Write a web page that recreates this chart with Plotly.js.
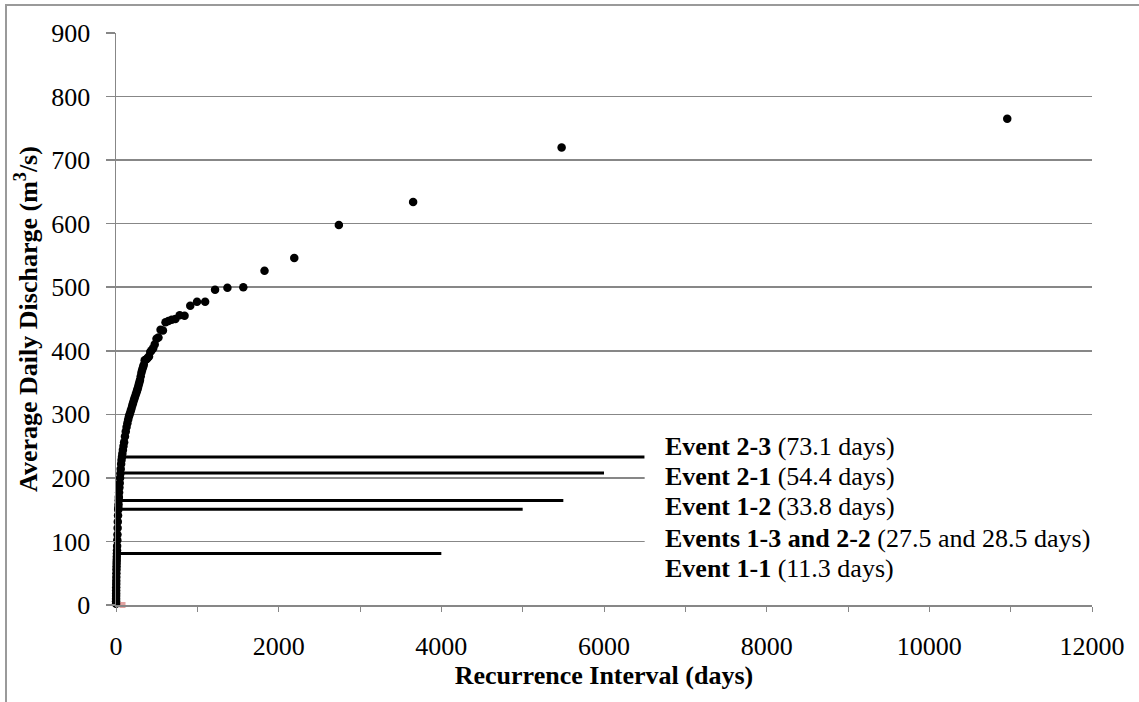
<!DOCTYPE html>
<html>
<head>
<meta charset="utf-8">
<script src="https://cdn.plot.ly/plotly-3.0.1.min.js"></script>
<style>
html,body{margin:0;padding:0;background:#fff;}
#chart{width:1139px;height:702px;}
</style>
</head>
<body>
<div id="chart"></div>
<script>
// Recurrence interval (days) and average daily discharge (m3/s)
const recurrenceDays = [10958,5479,3653,2740,2192,1826,1565,1370,1218,1096,996,913,843,783,730,685,645,609,577,548,522,498,476,457,438,421,406,391,378,365,353,342,332,322,313,304,295,287,280,272,265,258,250,240,230,220,210,200,190,180,170,160,150,140,130,120,110,100,92,85,78,73.1,68,63,58,54.4,50,46,42,38,35,33.8,31,29,27.5,25,22,20,18,16,14,12.5,11.3,10,9,8,7,6,5,4.2,3.5,3,2.5,2,1.7,1.5,1.3,1.1,1];
const dischargeCms = [765,720,634,598,546,526,500,499,496,477,477,471,455,456,450,449,447,445,432,433,421,419,410,404,401,398,391,389,387,386,385,378,374,370,366,360,354,350,347,343,340,337,334,330,326,322,318,314,309,305,301,297,292,286,280,273,265,256,250,244,238,233,228,222,214,207,200,192,185,177,170,165,158,153,150,141,131,121,111,102,93,86,81,76,71,66,61,56,50,44,38,33,28,23,18,14,10,6,2];

// Events: labels, recurrence interval (days), discharge level and end of the marker line
const eventLabels = ['Event 2-3', 'Event 2-1', 'Event 1-2', 'Events 1-3 and 2-2', 'Event 1-1'];
const eventDurations = ['(73.1 days)', '(54.4 days)', '(33.8 days)', '(27.5 and 28.5 days)', '(11.3 days)'];
const eventDays = [73.1, 54.4, 33.8, 27.5, 11.3];
const eventDischarge = [233, 207.5, 164.6, 150.5, 81];
const eventLineEnd = [6500, 6000, 5500, 5000, 4000];

// small secondary marker at the origin
const extraDays = [80];
const extraDischarge = [0];

const FONT = 'Liberation Serif, Times New Roman, serif';
const FS = 26;
const GRID = '#878787';

const traces = [];
for (let i = 0; i < eventLabels.length; i++) {
  traces.push({
    x: [eventDays[i], eventLineEnd[i]],
    y: [eventDischarge[i], eventDischarge[i]],
    mode: 'lines',
    line: {color: '#000', width: 3},
    hoverinfo: 'skip',
    showlegend: false
  });
}
traces.push({
  x: extraDays, y: extraDischarge, mode: 'markers',
  marker: {symbol: 'square', size: 6, color: '#e3a2a0'},
  cliponaxis: false, showlegend: false
});
traces.push({
  x: recurrenceDays, y: dischargeCms, mode: 'markers',
  marker: {size: 8.5, color: '#000', line: {width: 0}},
  cliponaxis: false, showlegend: false
});

const labelY = [249, 202, 154.7, 105.4, 58.2];
const annotations = eventLabels.map((lab, i) => ({
  x: 6726, y: labelY[i], xref: 'x', yref: 'y',
  xanchor: 'left', yanchor: 'middle', showarrow: false,
  text: '<b>' + lab + '</b> ' + eventDurations[i],
  font: {family: FONT, size: FS, color: '#000'}
}));

const layout = {
  width: 1139, height: 702,
  margin: {l: 116, r: 47, t: 33, b: 97},
  paper_bgcolor: '#fff', plot_bgcolor: '#fff',
  font: {family: FONT, size: FS, color: '#000'},
  showlegend: false,
  xaxis: {
    range: [0, 12000], tickmode: 'linear', tick0: 0, dtick: 2000,
    tickformat: 'd',
    ticks: 'outside', ticklen: 5, tickcolor: GRID, tickwidth: 1,
    minor: {dtick: 1000, ticks: 'outside', ticklen: 5, tickcolor: GRID, showgrid: false},
    showgrid: false, zeroline: false,
    showline: true, linecolor: GRID, linewidth: 1.5,
    ticklabelstandoff: 12,
    tickfont: {family: FONT, size: FS, color: '#000'},
    title: {text: '<b>Recurrence Interval (days)</b>', font: {family: FONT, size: FS, color: '#000'}, standoff: 2}
  },
  yaxis: {
    range: [0, 900], tickmode: 'linear', tick0: 0, dtick: 100,
    tickformat: 'd',
    ticks: 'outside', ticklen: 9, tickcolor: GRID, tickwidth: 1.5,
    showgrid: true, gridcolor: GRID, gridwidth: 1.5,
    zeroline: false, showline: true, linecolor: GRID, linewidth: 1.5,
    ticklabelstandoff: 10,
    tickfont: {family: FONT, size: FS, color: '#000'},
    title: {text: '<b>Average Daily Discharge (m<sup>3</sup>/s)</b>', font: {family: FONT, size: FS, color: '#000'}, standoff: 6}
  },
  shapes: [
    {type: 'rect', xref: 'x', yref: 'y', x0: 6500, x1: 12000, y0: 20, y1: 270,
     fillcolor: '#fff', line: {width: 0}, layer: 'above'},
    {type: 'rect', xref: 'paper', yref: 'paper',
     x0: (6 - 116) / 976, x1: (1150 - 116) / 976, y0: -(720 - 605) / 572, y1: 1 + (33 - 5) / 572,
     fillcolor: 'rgba(0,0,0,0)', line: {color: '#9a9a9a', width: 2}, layer: 'below'}
  ],
  annotations: annotations
};

Plotly.newPlot('chart', traces, layout, {staticPlot: true, displayModeBar: false});
</script>
</body>
</html>
